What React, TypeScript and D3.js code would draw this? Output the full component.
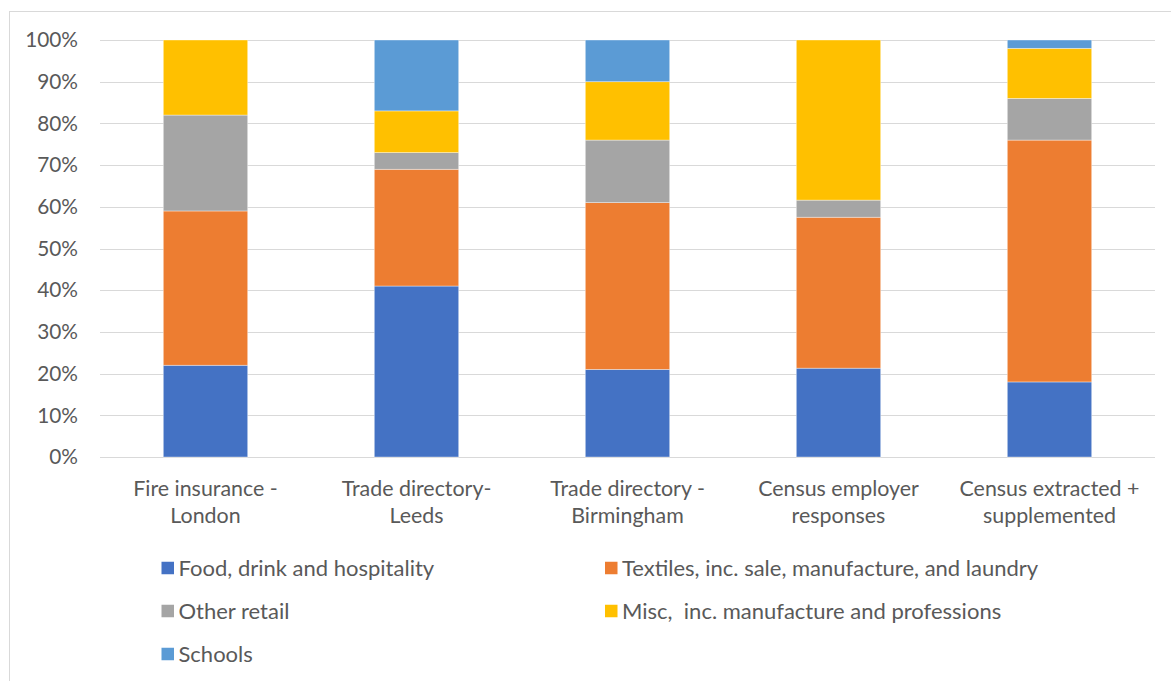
import React from "react";
import * as d3 from "d3";

const categories = [
  ["Fire insurance -", "London"],
  ["Trade directory-", "Leeds"],
  ["Trade directory -", "Birmingham"],
  ["Census employer", "responses"],
  ["Census extracted +", "supplemented"],
];
const seriesNames = [
  "Food, drink and hospitality",
  "Textiles, inc. sale, manufacture, and laundry",
  "Other retail",
  "Misc,  inc. manufacture and professions",
  "Schools",
];
const food = [22, 41, 21, 21.3, 18];
const textiles = [37, 28, 40, 36.2, 58];
const otherRetail = [23, 4, 15, 4.1, 10];
const misc = [18, 10, 14, 38.4, 12];
const schools = [0, 17, 10, 0, 2];
const colors = ["#4472C4", "#ED7D31", "#A5A5A5", "#FFC000", "#5B9BD5"];
const yTicks = [0, 10, 20, 30, 40, 50, 60, 70, 80, 90, 100];

const W = 1171;
const H = 681;
const plotL = 100;
const plotR = 1155;
const plotT = 40;
const plotB = 457;
const font = "Lato, 'Open Sans', sans-serif";
const textColor = "#595959";

export default function App() {
  const seriesVals = [food, textiles, otherRetail, misc, schools];
  const rows = categories.map((c, i) => {
    const total = seriesVals.reduce((s, v) => s + v[i], 0);
    const r: any = { idx: i };
    seriesVals.forEach((v, k) => (r["s" + k] = (v[i] / total) * 100));
    return r;
  });
  const keys = seriesNames.map((_, k) => "s" + k);
  const stacked = d3.stack<any>().keys(keys)(rows);

  const x = d3
    .scaleBand<number>()
    .domain(categories.map((_, i) => i))
    .range([plotL, plotR])
    .paddingInner(0.6)
    .paddingOuter(0.3);
  const y = d3.scaleLinear().domain([0, 100]).range([plotB, plotT]);

  const legendPos = [
    [161.5, 568],
    [605, 568],
    [161.5, 611],
    [605, 611],
    [161.5, 654],
  ];

  return (
    <svg
      width={W}
      height={H}
      style={{ position: "absolute", left: 0, top: 0 }}
      fontFamily={font}
    >
      <rect x={0} y={0} width={W} height={H} fill="#fff" />
      <rect
        x={9.5}
        y={11.5}
        width={W + 20}
        height={H + 20}
        fill="none"
        stroke="#d9d9d9"
        strokeWidth={1}
      />
      {yTicks.map((t) => (
        <g key={t}>
          <line
            x1={plotL}
            x2={plotR}
            y1={Math.round(y(t)) + 0.5}
            y2={Math.round(y(t)) + 0.5}
            stroke="#d9d9d9"
            strokeWidth={1.2}
          />
          <text
            x={78}
            y={y(t)}
            dy="0.35em"
            textAnchor="end"
            fontSize={20.8}
            fill={textColor}
          >
            {t}%
          </text>
        </g>
      ))}
      {stacked.map((layer, k) => (
        <g key={k} fill={colors[k]}>
          {layer.map((d, i) =>
            d[1] - d[0] > 0 ? (
              <rect
                key={i}
                x={x(i)}
                width={x.bandwidth()}
                y={y(d[1])}
                height={y(d[0]) - y(d[1])}
                stroke="#ffffff"
                strokeOpacity={0.5}
                strokeWidth={0.75}
              />
            ) : null
          )}
        </g>
      ))}
      {categories.map((c, i) => (
        <text
          key={i}
          x={(x(i) as number) + x.bandwidth() / 2}
          textAnchor="middle"
          fontSize={21.4}
          fill={textColor}
        >
          <tspan x={(x(i) as number) + x.bandwidth() / 2} y={496}>
            {c[0]}
          </tspan>
          <tspan x={(x(i) as number) + x.bandwidth() / 2} y={523}>
            {c[1]}
          </tspan>
        </text>
      ))}
      {seriesNames.map((n, k) => (
        <g key={k}>
          <rect
            x={legendPos[k][0]}
            y={legendPos[k][1] - 6.25}
            width={12.5}
            height={12.5}
            fill={colors[k]}
          />
          <text
            x={legendPos[k][0] + 17}
            y={legendPos[k][1]}
            dy="0.35em"
            fontSize={22}
            fill={textColor}
            style={{ whiteSpace: "pre" }}
          >
            {n}
          </text>
        </g>
      ))}
    </svg>
  );
}
